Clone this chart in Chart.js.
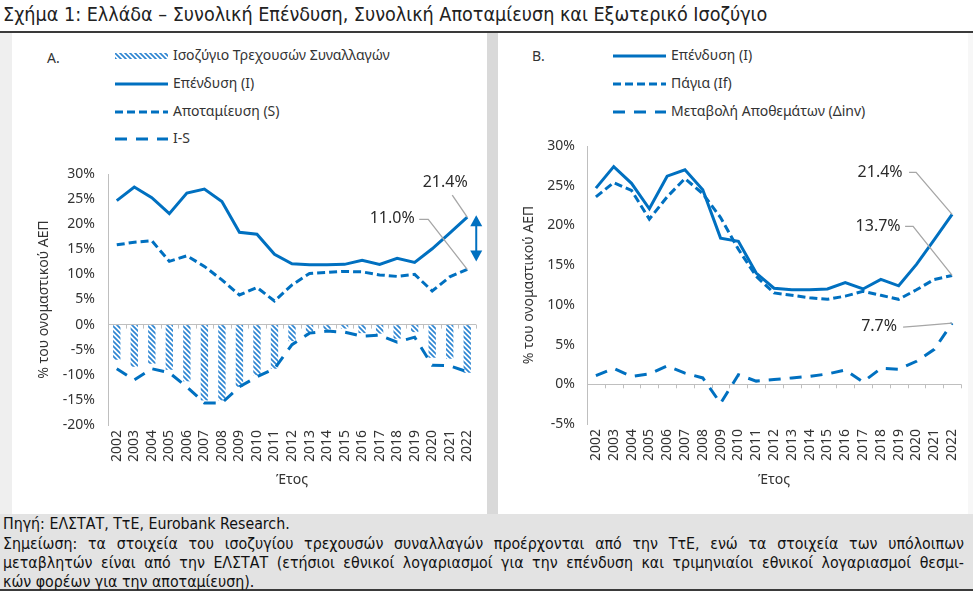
<!DOCTYPE html>
<html><head><meta charset="utf-8">
<script src="https://cdn.jsdelivr.net/npm/chart.js@4.4.0/dist/chart.umd.min.js"></script>
<style>
body{margin:0;width:973px;height:593px;position:relative;overflow:hidden;background:#fff;font-family:'Noto Sans',sans-serif;color:#333}
.abs{position:absolute}
#title{left:3px;top:3px;font-family:'Liberation Sans Narrow','DejaVu Sans Condensed',sans-serif;font-size:19.6px;color:#222;white-space:nowrap}
.leg{position:absolute;font-size:14px;color:#333;white-space:nowrap;line-height:18px}
.foot{position:absolute;left:3px;width:961px;font-family:'Liberation Sans Narrow','DejaVu Sans Condensed',sans-serif;font-size:15.8px;color:#111;white-space:nowrap;line-height:19px}
.just{text-align:justify;text-align-last:justify;white-space:normal}
</style></head><body>
<div class="abs" id="title">Σχήμα 1: Ελλάδα – Συνολική Επένδυση, Συνολική Αποταμίευση και Εξωτερικό Ισοζύγιο</div>
<div class="abs" style="left:0;top:31px;width:973px;height:2px;background:#3a3a3a"></div>
<div class="abs" style="left:0;top:33px;width:12px;height:481px;background:#efefef"></div>
<div class="abs" style="left:487px;top:33px;width:11px;height:481px;background:#d9d9d9"></div>
<div class="abs" style="left:968px;top:33px;width:5px;height:481px;background:#f7f7f7"></div>
<div class="abs" style="left:0;top:514px;width:973px;height:75px;background:#e3e3e3"></div>
<div class="abs" style="left:0;top:589px;width:973px;height:2px;background:#3a3a3a"></div>

<div class="leg" style="left:47px;top:49px">A.</div>
<div class="leg" style="left:532px;top:47px">B.</div>
<div id="legA"></div><div id="legB"></div>

<canvas id="cA" class="abs" width="475" height="340" style="left:12px;top:160px"></canvas>
<canvas id="cB" class="abs" width="470" height="370" style="left:498px;top:130px"></canvas>

<div class="foot" style="top:514px">Πηγή: ΕΛΣΤΑΤ, ΤτΕ, Eurobank Research.</div>
<div class="foot just" style="top:534px">Σημείωση: τα στοιχεία του ισοζυγίου τρεχουσών συναλλαγών προέρχονται από την ΤτΕ, ενώ τα στοιχεία των υπόλοιπων</div>
<div class="foot just" style="top:553px">μεταβλητών είναι από την ΕΛΣΤΑΤ (ετήσιοι εθνικοί λογαριασμοί για την επένδυση και τριμηνιαίοι εθνικοί λογαριασμοί θεσμι-</div>
<div class="foot" style="top:572px">κών φορέων για την αποταμίευση).</div>

<script>
const years = ['2002','2003','2004','2005','2006','2007','2008','2009','2010','2011','2012','2013','2014','2015','2016','2017','2018','2019','2020','2021','2022'];
const currentAccount = [-7.0,-8.4,-7.8,-9.0,-11.3,-15.1,-15.1,-12.4,-10.1,-8.8,-3.3,-1.8,-1.0,-0.8,-1.7,-1.8,-2.8,-1.5,-6.6,-6.8,-9.6];
const investment = [24.7,27.4,25.3,22.1,26.2,27.0,24.5,18.4,18.0,14.0,12.1,11.9,11.9,12.0,12.8,12.0,13.2,12.4,15.1,18.2,21.4];
const savings = [15.9,16.4,16.7,12.6,13.7,11.6,8.9,5.9,7.4,4.7,7.9,10.2,10.4,10.6,10.5,9.9,9.6,10.0,6.7,9.5,11.0];
const investmentMinusSavings = [-8.8,-11.0,-8.8,-9.6,-12.4,-15.6,-15.6,-12.4,-10.4,-8.8,-4.0,-1.7,-1.3,-1.5,-2.3,-2.1,-3.5,-2.5,-8.1,-8.2,-9.4];
const fixedInvestment = [23.6,25.4,24.4,20.8,23.6,25.9,24.0,21.0,17.0,13.6,11.5,11.2,10.9,10.7,11.1,11.7,11.2,10.7,11.9,13.2,13.7];
const inventoryChange = [1.1,2.0,1.0,1.3,2.3,1.4,0.8,-2.4,1.2,0.4,0.6,0.8,1.0,1.3,1.8,0.3,2.0,1.9,2.9,4.4,7.7];
const yRangeA = [-20, 30];
const yRangeB = [-5, 30];
const yStep = 5;

const labelsA = ['Ισοζύγιο Τρεχουσών Συναλλαγών','Επένδυση (I)','Αποταμίευση (S)','I-S'];
const labelsB = ['Επένδυση (I)','Πάγια (If)','Μεταβολή Αποθεμάτων (Δinv)'];

const BLUE = '#0070C0';
const HATCH = '#2f86d2';
const FONT = "'Noto Sans', sans-serif";
const TXT = '#333';
const DASH_S = [8,4];
const DASH_L = [12,9];

function hatchPattern(){
  const c = document.createElement('canvas'); c.width = c.height = 5;
  const g = c.getContext('2d');
  g.fillStyle = '#fff'; g.fillRect(0,0,5,5);
  g.strokeStyle = HATCH; g.lineWidth = 1.7; g.beginPath();
  for (const k of [-5,0,5]) { g.moveTo(-1,-1+k); g.lineTo(6,6+k); }
  g.stroke();
  return g.createPattern(c,'repeat');
}

function legend(id, items, x0, x1, tx, ys){
  const host = document.getElementById(id);
  items.forEach((it, i) => {
    const y = ys[i];
    const w = x1 - x0;
    let sym;
    if (it.hatch) {
      sym = `<svg class="abs" style="left:${x0}px;top:${y-3}px" width="${w}" height="6"><defs><pattern id="hp" width="5" height="5" patternUnits="userSpaceOnUse"><rect width="5" height="5" fill="#fff"/><path d="M-1,-1 L6,6 M-6,-1 L1,6 M4,-1 L11,6" stroke="${HATCH}" stroke-width="1.7"/></pattern></defs><rect width="${w}" height="6" fill="url(#hp)"/></svg>`;
    } else {
      sym = `<svg class="abs" style="left:${x0}px;top:${y-2}px" width="${w}" height="4"><line x1="0" y1="2" x2="${w}" y2="2" stroke="${BLUE}" stroke-width="3" ${it.dash?`stroke-dasharray="${it.dash.join(' ')}"`:''}/></svg>`;
    }
    host.insertAdjacentHTML('beforeend', sym + `<div class="leg" style="left:${tx}px;top:${y-10}px">${it.label}</div>`);
  });
}
legend('legA', [{label:labelsA[0],hatch:true},{label:labelsA[1]},{label:labelsA[2],dash:DASH_S},{label:labelsA[3],dash:DASH_L}], 115, 168, 173, [56,84,112,139]);
legend('legB', [{label:labelsB[0]},{label:labelsB[1],dash:DASH_S},{label:labelsB[2],dash:DASH_L}], 613, 666, 671, [56,84,112]);

const annotPlugin = {
  id: 'annot',
  beforeDatasetsDraw(chart){
    const x = chart.scales.x, y = chart.scales.y, ctx = chart.ctx;
    const y0 = y.getPixelForValue(0);
    const n = chart.data.labels.length;
    ctx.save(); ctx.strokeStyle = '#bfbfbf'; ctx.lineWidth = 1; ctx.beginPath();
    for (let i = 0; i < n; i++) {
      const px = Math.round(x.getPixelForValue(i + 0.5)) + 0.5;
      ctx.moveTo(px, y0); ctx.lineTo(px, y0 + 4);
    }
    ctx.stroke(); ctx.restore();
  },
  afterDatasetsDraw(chart, args, opts){
    const ctx = chart.ctx;
    ctx.save();
    (opts.items || []).forEach(a => {
      const el = chart.getDatasetMeta(a.ds).data[a.i];
      const v = chart.data.datasets[a.ds].data[a.i];
      const px = el.x, py = el.y;
      ctx.strokeStyle = '#a6a6a6'; ctx.lineWidth = 1.3; ctx.setLineDash([]);
      ctx.beginPath();
      a.path.forEach((p, k) => { k ? ctx.lineTo(px + p[0], py + p[1]) : ctx.moveTo(px + p[0], py + p[1]); });
      ctx.lineTo(px, py); ctx.stroke();
      ctx.fillStyle = '#2b2b2b'; ctx.font = "16px " + FONT; ctx.textAlign = 'center'; ctx.textBaseline = 'middle';
      ctx.fillText(v.toFixed(1) + '%', px + a.t[0], py + a.t[1]);
    });
    if (opts.arrow) {
      const a = opts.arrow;
      const e1 = chart.getDatasetMeta(a.from).data[a.i];
      const e2 = chart.getDatasetMeta(a.to).data[a.i];
      const ax = e1.x + a.dx, top = e1.y - 2, bot = e2.y - 8;
      ctx.fillStyle = BLUE; ctx.strokeStyle = BLUE; ctx.lineWidth = 2;
      ctx.beginPath(); ctx.moveTo(ax, top + 8); ctx.lineTo(ax, bot - 8); ctx.stroke();
      ctx.beginPath(); ctx.moveTo(ax, top); ctx.lineTo(ax - 6, top + 11); ctx.lineTo(ax + 6, top + 11); ctx.closePath(); ctx.fill();
      ctx.beginPath(); ctx.moveTo(ax, bot); ctx.lineTo(ax - 6, bot - 11); ctx.lineTo(ax + 6, bot - 11); ctx.closePath(); ctx.fill();
    }
    ctx.restore();
  }
};

function lineDs(label, data, dash){
  return {type:'line', label, data, borderColor:BLUE, borderWidth:3, borderDash:dash||[], borderCapStyle:'butt',
          pointRadius:0, tension:0, fill:false, order:0};
}

function options(cfg){
  return {
    responsive:false, animation:false, devicePixelRatio:1,
    layout:{padding:{top:cfg.padTop, right:cfg.padRight, left:0, bottom:0}},
    plugins:{legend:{display:false}, tooltip:{enabled:false}, annot:cfg.annot},
    scales:{
      x:{offset:true, grid:{display:false, drawTicks:false}, border:{display:false},
         ticks:{autoSkip:false, minRotation:90, maxRotation:90, padding:5, color:TXT, font:{family:FONT, size:14}},
         title:{display:true, text:'Έτος', color:TXT, font:{family:FONT, size:14}, padding:{top:0, bottom:cfg.xTitlePad}},
         afterFit:s => { s.height = cfg.xHeight; s.paddingLeft = 0; s.paddingRight = 0; }},
      y:{min:cfg.yRange[0], max:cfg.yRange[1],
         ticks:{stepSize:yStep, callback:v => v + '%', padding:cfg.tickPad, color:TXT, font:{family:FONT, size:14}},
         grid:{drawTicks:false, color:c => (c.tick && c.tick.value === 0) ? '#bfbfbf' : 'rgba(0,0,0,0)', lineWidth:1},
         border:{display:true, color:'#bfbfbf', width:1},
         title:{display:true, text:'% του ονομαστικού ΑΕΠ', color:TXT, font:{family:FONT, size:14}, padding:{top:cfg.yTitlePad, bottom:0}},
         afterFit:s => { s.width = cfg.yWidth; s.paddingTop = 0; s.paddingBottom = 0; }}
    }
  };
}

new Chart(document.getElementById('cA'), {
  type:'bar',
  data:{labels:years, datasets:[
    {type:'bar', label:labelsA[0], data:currentAccount, backgroundColor:hatchPattern(), borderWidth:0, barPercentage:0.42, categoryPercentage:1, order:1},
    lineDs(labelsA[1], investment),
    lineDs(labelsA[2], savings, DASH_S),
    lineDs(labelsA[3], investmentMinusSavings, DASH_L)
  ]},
  options:options({padTop:14, padRight:11, xHeight:75, xTitlePad:12, yRange:yRangeA, tickPad:13, yTitlePad:24, yWidth:96,
    annot:{items:[
      {ds:1, i:20, t:[-22,-35], path:[[-15,-22]]},
      {ds:2, i:20, t:[-75,-51], path:[[-48,-50],[-39,-50]]}
    ], arrow:{from:1, to:2, i:20, dx:9}}}),
  plugins:[annotPlugin]
});

new Chart(document.getElementById('cB'), {
  type:'line',
  data:{labels:years, datasets:[
    lineDs(labelsB[0], investment),
    lineDs(labelsB[1], fixedInvestment, DASH_S),
    lineDs(labelsB[2], inventoryChange, DASH_L)
  ]},
  options:options({padTop:16, padRight:7, xHeight:76, xTitlePad:12, yRange:yRangeB, tickPad:12, yTitlePad:23, yWidth:89,
    annot:{items:[
      {ds:0, i:20, t:[-72,-42], path:[[-43,-42],[-36,-42]]},
      {ds:1, i:20, t:[-74,-49], path:[[-47,-49],[-39,-49]]},
      {ds:2, i:20, t:[-73,3], path:[[-49,4],[-36,3]]}
    ]}}),
  plugins:[annotPlugin]
});
</script>
</body></html>
